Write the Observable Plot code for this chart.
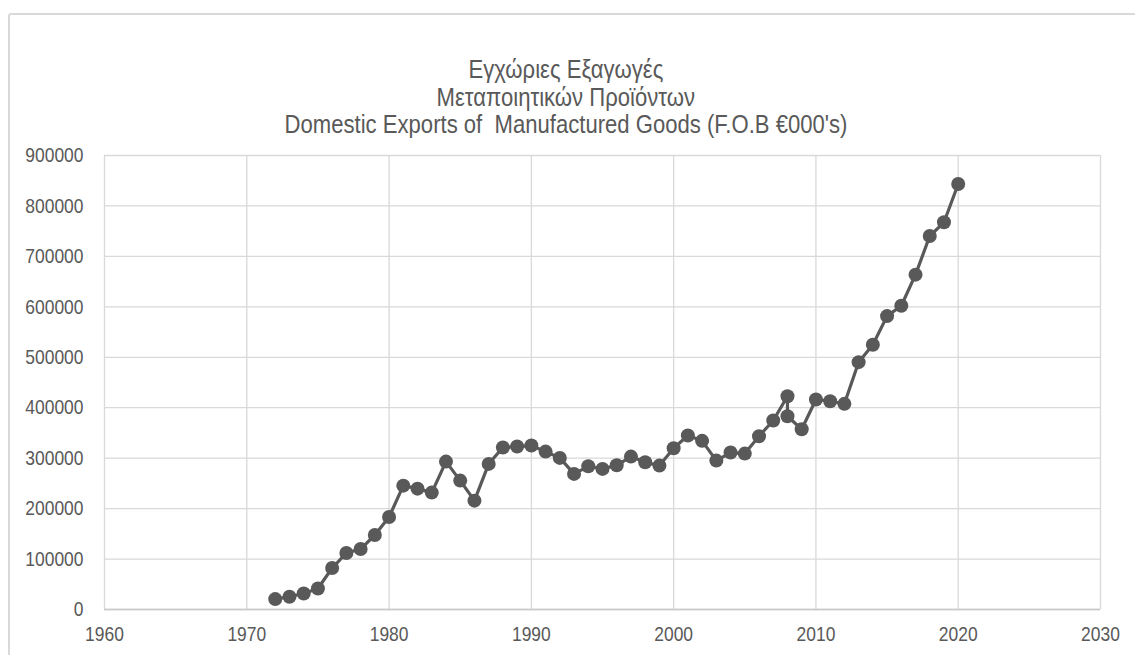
<!DOCTYPE html>
<html>
<head>
<meta charset="utf-8">
<script src="https://cdn.jsdelivr.net/npm/d3@7"></script>
<script src="https://cdn.jsdelivr.net/npm/@observablehq/plot@0.6"></script>
<style>
  html, body { margin: 0; padding: 0; background: #fff; }
  #chart { position: relative; width: 1135px; height: 655px; overflow: hidden;
           font-family: "Liberation Sans", Arial, sans-serif; color: #595959; }
  #frame { position: absolute; left: 8px; top: 13px; width: 1200px; height: 700px;
           border: 2px solid #d9d9d9; border-radius: 3px; box-sizing: border-box; }
  #title { position: absolute; left: 8px; width: 1116px; top: 56px; text-align: center;
           font-size: 26.3px; line-height: 27.5px; }
  #title span { display: inline-block; transform: scaleX(0.84); transform-origin: 50% 50%; white-space: pre; }
  #plot { position: absolute; left: 0; top: 140px; }
</style>
</head>
<body>
<div id="chart">
  <div id="frame"></div>
  <div id="title">
    <div><span>Εγχώριες Εξαγωγές</span></div>
    <div><span>Μεταποιητικών Προϊόντων</span></div>
    <div><span>Domestic Exports of  Manufactured Goods (F.O.B €000's)</span></div>
  </div>
  <div id="plot"></div>
</div>
<script>
// Domestic exports of manufactured goods, F.O.B. in thousands of euro.
// 2008 appears twice in the series (two reported figures).
const years = [
  1972, 1973, 1974, 1975, 1976, 1977, 1978, 1979, 1980,
  1981, 1982, 1983, 1984, 1985, 1986, 1987, 1988, 1989, 1990,
  1991, 1992, 1993, 1994, 1995, 1996, 1997, 1998, 1999, 2000,
  2001, 2002, 2003, 2004, 2005, 2006, 2007, 2008, 2008, 2009, 2010,
  2011, 2012, 2013, 2014, 2015, 2016, 2017, 2018, 2019, 2020
];
const exportsValue = [
  20600, 25200, 31800, 41700, 82200, 112000, 119900, 147700, 183400,
  245500, 239600, 231700, 293200, 255500, 215800, 288600, 321000, 323000, 325000,
  313000, 300500, 268800, 283900, 278700, 285900, 303100, 291800, 285300, 319600,
  344800, 334300, 295200, 311100, 309100, 343400, 374600, 422800, 383100, 357300, 416300,
  412900, 407700, 490300, 524800, 581600, 602200, 663800, 740400, 767600, 843600
];
const xTicks = [1960, 1970, 1980, 1990, 2000, 2010, 2020, 2030];
const yTicks = [0, 100000, 200000, 300000, 400000, 500000, 600000, 700000, 800000, 900000];

const data = years.map((year, i) => ({year, value: exportsValue[i]}));

const ink = "#595959";
const gridColor = "#d9d9d9";

const chart = Plot.plot({
  width: 1135,
  height: 515,
  marginTop: 15,
  marginBottom: 46,
  marginLeft: 104,
  marginRight: 35,
  style: {
    fontFamily: "'Liberation Sans', Arial, sans-serif",
    fontSize: "21px",
    color: ink,
    background: "transparent"
  },
  x: {domain: [1960, 2030], ticks: xTicks, tickFormat: d => String(d), label: null},
  y: {domain: [0, 900000], ticks: yTicks, tickFormat: d => String(d), label: null},
  marks: [
    Plot.gridX(xTicks, {stroke: gridColor, strokeOpacity: 1, strokeWidth: 1.3}),
    Plot.gridY(yTicks, {stroke: gridColor, strokeOpacity: 1, strokeWidth: 1.3}),
    Plot.ruleY([0], {stroke: "#c8c8c8", strokeWidth: 1.5}),
    Plot.axisX(xTicks, {tickSize: 0, tickPadding: 17, tickFormat: d => String(d), fill: ink, label: null}),
    Plot.axisY(yTicks, {tickSize: 0, tickPadding: 21, tickFormat: d => String(d), fill: ink, label: null}),
    Plot.line(data, {x: "year", y: "value", stroke: ink, strokeWidth: 3.2}),
    Plot.dot(data, {x: "year", y: "value", r: 7, fill: ink, stroke: "none"})
  ]
});

document.getElementById("plot").appendChild(chart);

// Narrow the tick labels horizontally to a condensed look.
chart.querySelectorAll('g[aria-label$="tick label"] text').forEach(t => {
  const len = t.getComputedTextLength();
  t.setAttribute("textLength", (len * 0.83).toFixed(1));
  t.setAttribute("lengthAdjust", "spacingAndGlyphs");
});
</script>
</body>
</html>
